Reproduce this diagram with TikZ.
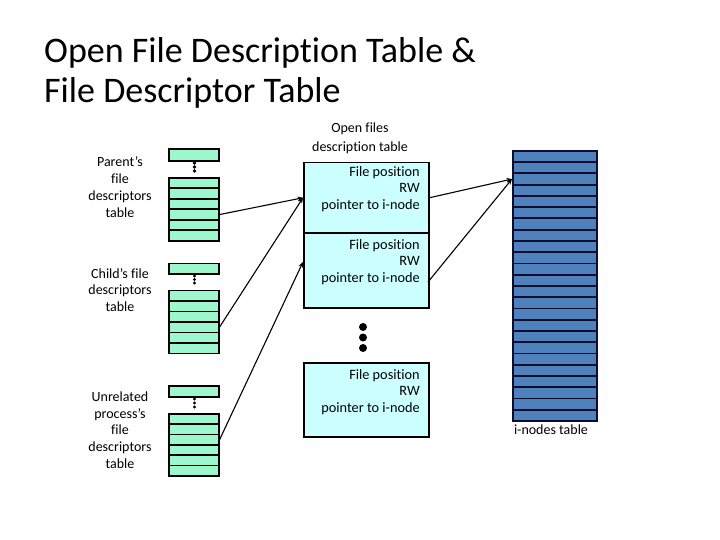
\documentclass[tikz,border=0pt]{standalone}
\usepackage{fontspec}
\setmainfont{Carlito}[Ligatures={NoCommon}]
\usetikzlibrary{arrows.meta}
\definecolor{fdgreen}{HTML}{9CF7CC}
\definecolor{ofcyan}{HTML}{CCFFFF}
\definecolor{inblue}{HTML}{4F81BD}
\definecolor{innavy}{HTML}{0D0D2E}
\tikzset{
  fdrow/.style={draw=black, line width=1.6pt, fill=fdgreen, minimum width=50pt, minimum height=10.5pt, inner sep=0pt, anchor=north west},
  ofbox/.style={draw=black, line width=1.5pt, fill=ofcyan, minimum width=125pt, inner sep=0pt, anchor=north west},
  inrow/.style={draw=innavy, line width=1.8pt, fill=inblue, minimum width=84pt, minimum height=11.25pt, inner sep=0pt, anchor=north west},
  lbl/.style={font=\fontsize{14}{16.8}\selectfont, align=center, inner sep=0pt},
  oftext/.style={font=\fontsize{14.3}{16.8}\selectfont, align=right, inner sep=0pt, anchor=north east},
  ttl/.style={font=\fontsize{36}{40}\selectfont, inner sep=0pt, anchor=base west},
  conn/.style={draw=black, line width=1.1pt, -{Stealth[length=5.5pt,width=4.5pt]}},
}
\begin{document}
\begin{tikzpicture}[x=1pt, y=-1pt]
\useasboundingbox (0,0) rectangle (720,540);

% title
\node[ttl] (t1) at (44,63) {Open File Description Table \&};
\node[ttl] (t2) at (44,103) {File Descriptor Table};

% labels
\node[lbl] (lp) at (120,187) {Parent’s\\file\\descriptors\\table};
\node[lbl] (lc) at (120,290) {Child’s file\\descriptors\\table};
\node[lbl] (lu) at (120,430) {Unrelated\\process’s\\file\\descriptors\\table};
\node[lbl, font=\fontsize{14}{19}\selectfont] (lo) at (360,138) {Open files\\description table};
\node[lbl] (li) at (551,430) {i-nodes table};

% parent table
\node[fdrow, minimum height=11.5pt] (ps) at (168,148.5) {};
\foreach \i in {1,...,6} \node[fdrow] (p\i) at (168,{177+(\i-1)*10.5}) {};
% child table
\node[fdrow] (cs) at (168,262.5) {};
\foreach \i in {1,...,6} \node[fdrow] (c\i) at (168,{289.5+(\i-1)*10.5}) {};
% unrelated table
\node[fdrow, minimum height=11pt] (us) at (168,385) {};
\foreach \i in {1,...,6} \node[fdrow] (u\i) at (168,{413+(\i-1)*10.3}) {};

% small vertical dots
\foreach \y in {163,167,171} \fill (194.5,\y) circle (1.9pt);
\foreach \y in {276,279.5,283} \fill (194.5,\y) circle (1.7pt);
\foreach \y in {399,403,407} \fill (194.5,\y) circle (1.7pt);

% open file description boxes
\node[ofbox, minimum height=70pt] (of1) at (303,162) {};
\node[ofbox, minimum height=75pt] (of2) at (303,232) {};
\node[ofbox, minimum height=74pt] (of3) at (303,362) {};
\node[oftext] (x1) at (420,166) {File position\\RW\\pointer to i-node};
\node[oftext] (x2) at (420,239) {File position\\RW\\pointer to i-node};
\node[oftext] (x3) at (420,369) {File position\\RW\\pointer to i-node};
\foreach \y in {327,337.5,348} \fill (363,\y) circle (4pt);

% i-node table
\foreach \i in {1,...,24} \node[inrow] (n\i) at (512,{150+(\i-1)*11.25}) {};

% connectors
\coordinate (a2) at (303,262);
\coordinate (b2) at (428,282);
\draw[conn] (p4.east) -- (of1.west);
\draw[conn] (c4.east) -- (of1.west);
\draw[conn] (u3.east) -- (a2);
\draw[conn] (of1.east) -- (n3.west);
\draw[conn] (b2) -- (n3.west);
\end{tikzpicture}
\end{document}
